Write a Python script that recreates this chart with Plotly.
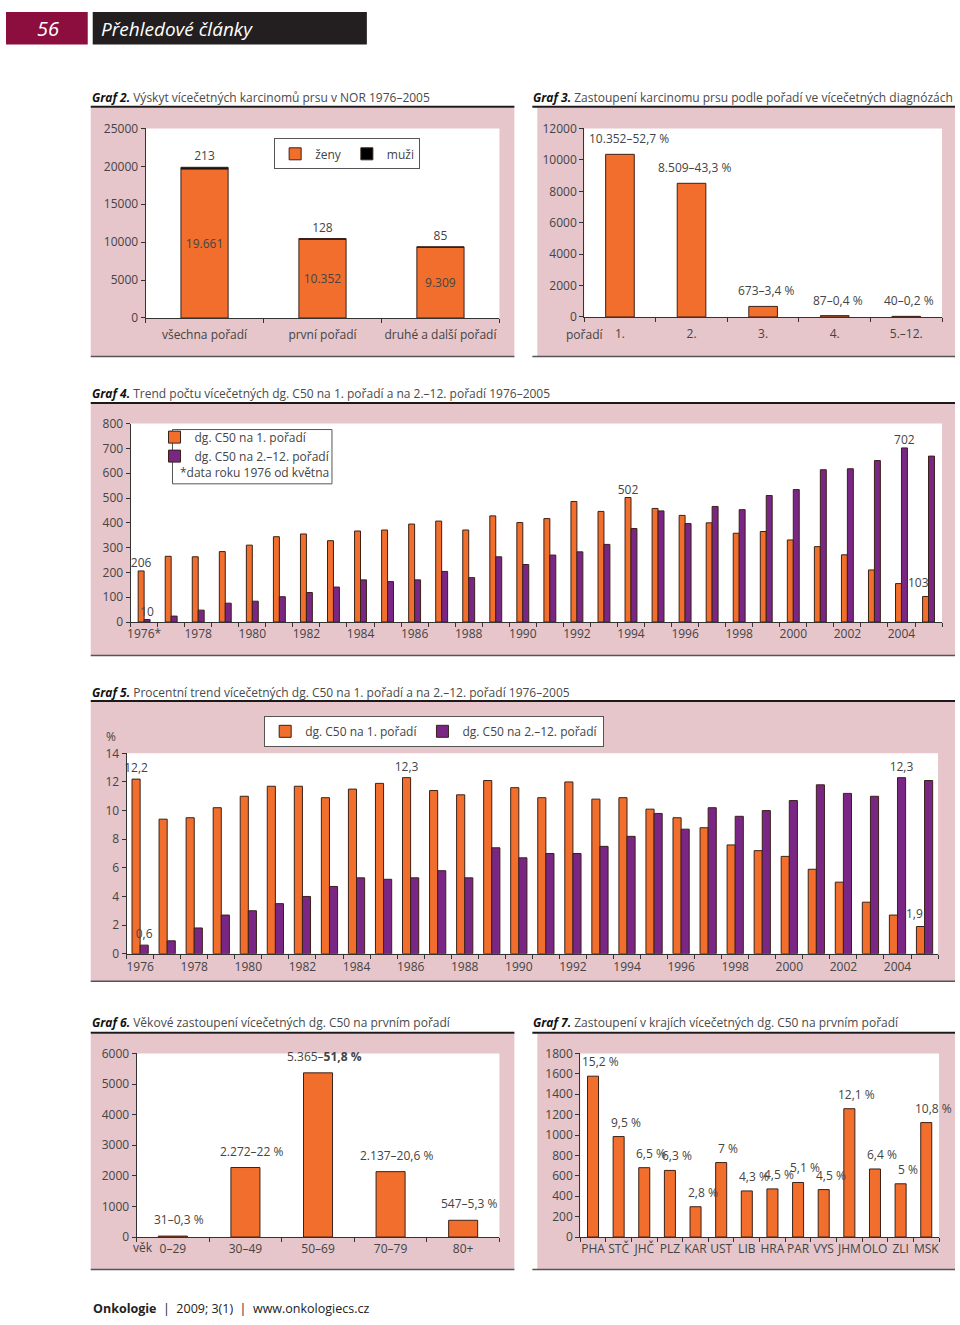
import plotly.graph_objects as go

W, H = 960, 1325
def px(x): return x / W
def py(y): return 1 - y / H

ORANGE = "#f26e2d"
PURPLE = "#7a2685"
EDGE = "#3a2218"
PINK = "#e6c5cb"
TXT = "#444444"
AX = "#333333"
FONT = "Open Sans"
FS = 12

# ---------------- data ----------------
g2_cats = ["všechna pořadí", "první pořadí", "druhé a další pořadí"]
g2_zeny = [19661, 10352, 9309]
g2_muzi = [213, 128, 85]
g2_zeny_lbl = ["19.661", "10.352", "9.309"]
g2_muzi_lbl = ["213", "128", "85"]

g3_cats = ["1.", "2.", "3.", "4.", "5.–12."]
g3_vals = [10352, 8509, 673, 87, 40]
g3_lbl = ["10.352–52,7 %", "8.509–43,3 %", "673–3,4 %", "87–0,4 %", "40–0,2 %"]

years = list(range(1976, 2006))
year_ticks = list(range(1976, 2006, 2))
year_ticktext = ["1976*"] + [str(y) for y in range(1978, 2006, 2)]
year_ticktext5 = [str(y) for y in range(1976, 2006, 2)]

g4_first = [206, 265, 263, 284, 310, 344, 355, 328, 367, 371, 395, 407, 371, 428, 401,
            417, 486, 446, 502, 458, 430, 400, 358, 365, 331, 304, 271, 210, 155, 103]
g4_other = [10, 24, 48, 76, 84, 102, 119, 141, 170, 163, 170, 204, 179, 263, 232,
            270, 283, 313, 377, 448, 397, 466, 453, 510, 534, 614, 618, 651, 702, 669]
g4_first_lbl = {1976: "206", 1994: "502"}
g4_other_lbl = {1976: "10", 2004: "702"}
g4_last_lbl = "103"

g5_first = [12.2, 9.4, 9.5, 10.2, 11.0, 11.7, 11.7, 10.9, 11.5, 11.9, 12.3, 11.4, 11.1, 12.1, 11.6,
            10.9, 12.0, 10.8, 10.9, 10.1, 9.5, 8.8, 7.6, 7.2, 6.8, 5.9, 5.0, 3.6, 2.7, 1.9]
g5_other = [0.6, 0.9, 1.8, 2.7, 3.0, 3.5, 4.0, 4.7, 5.3, 5.2, 5.3, 5.8, 5.3, 7.4, 6.7,
            7.0, 7.0, 7.5, 8.2, 9.8, 8.7, 10.2, 9.6, 10.0, 10.7, 11.8, 11.2, 11.0, 12.3, 12.1]
g5_first_lbl = {1976: "12,2", 1986: "12,3"}
g5_other_lbl = {1976: "0,6", 2004: "12,3"}
g5_last_lbl = "1,9"

g6_cats = ["0–29", "30–49", "50–69", "70–79", "80+"]
g6_vals = [31, 2272, 5365, 2137, 547]
g6_lbl = ["31–0,3 %", "2.272–22 %", "5.365–<b>51,8 %</b>", "2.137–20,6 %", "547–5,3 %"]

g7_cats = ["PHA", "STČ", "JHČ", "PLZ", "KAR", "UST", "LIB", "HRA", "PAR", "VYS", "JHM", "OLO", "ZLI", "MSK"]
g7_vals = [1577, 985, 680, 653, 297, 730, 452, 472, 535, 465, 1258, 667, 522, 1122]
g7_lbl = ["15,2 %", "9,5 %", "6,5 %", "6,3 %", "2,8 %", "7 %", "4,3 %", "4,5 %", "5,1 %", "4,5 %",
          "12,1 %", "6,4 %", "5 %", "10,8 %"]

# ---------------- figure ----------------
fig = go.Figure()
lbl_font = dict(family=FONT, size=FS, color=TXT)
edge = dict(color=EDGE, width=1)

def bar(x, y, xa, ya, color, width, offset=None, text=None, textpos="outside", **kw):
    d = dict(x=x, y=y, xaxis=xa, yaxis=ya, marker=dict(color=color, line=edge),
             width=width, text=text, textposition=textpos, textfont=lbl_font,
             cliponaxis=False, constraintext="none", hoverinfo="skip")
    if offset is not None:
        d["offset"] = offset
    d.update(kw)
    fig.add_trace(go.Bar(**d))

# Graf 2
i2 = list(range(len(g2_cats)))
bar(i2, g2_zeny, "x", "y", ORANGE, 0.4, text=g2_zeny_lbl, textpos="inside",
    insidetextanchor="middle", name="ženy", legend="legend", showlegend=True,
    insidetextfont=lbl_font)
bar(i2, g2_muzi, "x", "y", "#000000", 0.4, text=g2_muzi_lbl, base=g2_zeny,
    name="muži", legend="legend", showlegend=True)

# Graf 3
i3 = list(range(len(g3_cats)))
bar(i3, g3_vals, "x2", "y2", ORANGE, 0.4, showlegend=False)

# Graf 4
bar(years, g4_first, "x3", "y3", ORANGE, 0.22, offset=-0.22,
    text=[g4_first_lbl.get(y, "") for y in years],
    name="dg. C50 na 1. pořadí", legend="legend2", showlegend=True)
bar(years, g4_other, "x3", "y3", PURPLE, 0.22, offset=0.0,
    text=[g4_other_lbl.get(y, "") for y in years],
    name="dg. C50 na 2.–12. pořadí", legend="legend2", showlegend=True)

# Graf 5
bar(years, g5_first, "x4", "y4", ORANGE, 0.3, offset=-0.3,
    text=[g5_first_lbl.get(y, "") for y in years],
    name="dg. C50 na 1. pořadí", legend="legend3", showlegend=True)
bar(years, g5_other, "x4", "y4", PURPLE, 0.3, offset=0.0,
    text=[g5_other_lbl.get(y, "") for y in years],
    name="dg. C50 na 2.–12. pořadí", legend="legend3", showlegend=True)

# Graf 6
i6 = list(range(len(g6_cats)))
bar(i6, g6_vals, "x5", "y5", ORANGE, 0.4, showlegend=False)

# Graf 7
i7 = list(range(len(g7_cats)))
bar(i7, g7_vals, "x6", "y6", ORANGE, 0.43, showlegend=False)

# ---------------- axes ----------------
tickfont = dict(family=FONT, size=FS, color=TXT)

def xax(x0, x1, anchor, n=None, tickvals=None, ticktext=None, rng=None, tick0=-0.5, standoff=4):
    if n is not None:
        tickvals = list(range(n))
        rng = [-0.5, n - 0.5]
    return dict(domain=[px(x0), px(x1)], anchor=anchor, range=rng, tickmode="array",
                tickvals=tickvals, ticktext=ticktext, ticks="", showline=True, linecolor=AX,
                linewidth=1, showgrid=False, zeroline=False, tickfont=tickfont, tickangle=0,
                ticklabelstandoff=standoff, fixedrange=True,
                minor=dict(tick0=tick0, dtick=1, ticks="outside", ticklen=4,
                           tickcolor=AX, tickwidth=1, showgrid=False))

def yax(y0, y1, anchor, top, dtick):
    return dict(domain=[py(y1), py(y0)], anchor=anchor, range=[0, top], dtick=dtick,
                tick0=0, tickformat="d", ticks="outside", ticklen=4, tickcolor=AX, showline=True,
                linecolor=AX, linewidth=1, showgrid=False, zeroline=False,
                tickfont=tickfont, fixedrange=True)

G2 = (143, 498, 121, 313)
G3 = (583, 942, 121, 312)
G4 = (128, 942, 420, 621)
G5 = (124, 938, 754, 957)
G6 = (134, 498, 1058, 1244)
G7 = (579, 939, 1058, 1244)

layout_axes = dict(
    xaxis=xax(G2[0], G2[1], "y", n=3, ticktext=g2_cats, standoff=6),
    yaxis=yax(G2[2], G2[3], "x", 25000, 5000),
    xaxis2=xax(G3[0], G3[1], "y2", n=5, ticktext=g3_cats, standoff=6),
    yaxis2=yax(G3[2], G3[3], "x2", 12000, 2000),
    xaxis3=xax(G4[0], G4[1], "y3", tickvals=year_ticks, ticktext=year_ticktext,
               rng=[1975.5, 2005.5], tick0=1975.5, standoff=1),
    yaxis3=yax(G4[2], G4[3], "x3", 800, 100),
    xaxis4=xax(G5[0], G5[1], "y4", tickvals=year_ticks, ticktext=year_ticktext5,
               rng=[1975.5, 2005.5], tick0=1975.5, standoff=2),
    yaxis4=yax(G5[2], G5[3], "x4", 14, 2),
    xaxis5=xax(G6[0], G6[1], "y5", n=5, ticktext=g6_cats, standoff=1),
    yaxis5=yax(G6[2], G6[3], "x5", 6000, 1000),
    xaxis6=xax(G7[0], G7[1], "y6", n=14, ticktext=g7_cats, standoff=1),
    yaxis6=yax(G7[2], G7[3], "x6", 1800, 200),
)

# ---------------- decorations ----------------
shapes = []
def rect(x0, y0, x1, y1, color, line=None):
    shapes.append(dict(type="rect", xref="paper", yref="paper", x0=px(x0), x1=px(x1),
                       y0=py(y1), y1=py(y0), fillcolor=color, layer="below",
                       line=line or dict(width=0)))
def hline(x0, x1, y, width=2, color="#1a1a1a"):
    shapes.append(dict(type="line", xref="paper", yref="paper", x0=px(x0), x1=px(x1),
                       y0=py(y), y1=py(y), line=dict(color=color, width=width), layer="below"))

# header
rect(3, 3, 85, 36, "#8c0e3f")
rect(90, 3, 365, 36, "#231f20")

panels = [
    (88, 100, 513, 352), (536, 100, 955, 352),
    (88, 400, 955, 655), (88, 702, 955, 985),
    (88, 1038, 513, 1277), (536, 1038, 955, 1277),
]
for (x0, y0, x1, y1) in panels:
    rect(x0, y0, x1, y1, PINK)
for (x0, x1, y0, y1) in [G2, G3, G4, G5, G6, G7]:
    rect(x0, y0, x1, y1, "white")

hline(88, 513, 99); hline(531, 955, 99)
hline(88, 955, 399); hline(88, 955, 701)
hline(88, 513, 1037); hline(531, 955, 1037)
for (x0, y0, x1, y1) in panels:
    hline(x0 if x0 != 536 else 531, x1, y1, width=1.5, color="#555555")

# legend box for Graf 4
rect(170, 426, 330, 481, "white", line=dict(color="#555555", width=1))

annotations = []
def text(x, y, s, size=FS, color=TXT, xanchor="left", family=FONT):
    annotations.append(dict(x=px(x), y=py(y), xref="paper", yref="paper", text=s,
                            showarrow=False, xanchor=xanchor, yanchor="middle",
                            font=dict(family=family, size=size, color=color)))

text(45, 20, "<i>56</i>", size=20, color="white", xanchor="center")
text(96, 20, "<i>Přehledové články</i>", size=19, color="white")

def title(x, y, num, rest):
    text(x, y, f"<b><i>Graf {num}.</i></b> <span style='color:#4a4a4a'>{rest}</span>",
         size=12, color="#111111")

title(87, 90, 2, "Výskyt vícečetných karcinomů prsu v NOR 1976–2005")
title(530, 90, 3, "Zastoupení karcinomu prsu podle pořadí ve vícečetných diagnózách")
title(87, 390, 4, "Trend počtu vícečetných dg. C50 na 1. pořadí a na 2.–12. pořadí 1976–2005")
title(87, 692, 5, "Procentní trend vícečetných dg. C50 na 1. pořadí a na 2.–12. pořadí 1976–2005")
title(87, 1027, 6, "Věkové zastoupení vícečetných dg. C50 na prvním pořadí")
title(530, 1027, 7, "Zastoupení v krajích vícečetných dg. C50 na prvním pořadí")

text(583, 330, "pořadí", xanchor="center")
text(140, 1255, "věk", xanchor="center")
text(108, 737, "%", xanchor="center")
text(176, 470, "*data roku 1976 od května")

text(88, 1316, "<b>Onkologie</b>  |  2009; 3(1)  |  www.onkologiecs.cz", size=12.5, color="#222222")

# value labels placed slightly off-centre, as in the original
def val_label(xa, ya, x, y, lbl, xshift, yshift=3):
    annotations.append(dict(x=x, y=y, xref=xa, yref=ya, text=lbl, showarrow=False,
                            xanchor="center", yanchor="bottom", xshift=xshift, yshift=yshift,
                            font=dict(family=FONT, size=FS, color=TXT)))

val_label("x3", "y3", years[-1], g4_first[-1], g4_last_lbl, -10)
val_label("x4", "y4", years[-1], g5_first[-1], g5_last_lbl, -10)
for i, (v, l) in enumerate(zip(g3_vals, g3_lbl)):
    val_label("x2", "y2", i, v, l, 9 if i == 0 else 3, 5)
for i, (v, l) in enumerate(zip(g6_vals, g6_lbl)):
    val_label("x5", "y5", i, v, l, 6, 6)
for i, (v, l) in enumerate(zip(g7_vals, g7_lbl)):
    val_label("x6", "y6", i, v, l, 7, 4)

legfont = dict(family=FONT, size=FS, color=TXT)
fig.update_layout(
    width=W, height=H, margin=dict(l=0, r=0, t=0, b=0), autosize=False,
    paper_bgcolor="white", plot_bgcolor="rgba(0,0,0,0)",
    barmode="overlay", hovermode=False,
    font=dict(family=FONT, size=FS, color=TXT),
    shapes=shapes, annotations=annotations,
    legend=dict(x=px(272), y=py(131), xanchor="left", yanchor="top", orientation="h",
                bgcolor="white", bordercolor="#555555", borderwidth=1, font=legfont,
                itemwidth=30, tracegroupgap=0),
    legend2=dict(x=px(152), y=py(419), xanchor="left", yanchor="top", orientation="v",
                 bgcolor="rgba(0,0,0,0)", borderwidth=0, font=legfont, itemwidth=30,
                 tracegroupgap=0),
    legend3=dict(x=px(262), y=py(716), xanchor="left", yanchor="top", orientation="h",
                 bgcolor="white", bordercolor="#555555", borderwidth=1, font=legfont,
                 itemwidth=30),
    **layout_axes,
)

fig.write_html(
    "out.html",
    config={"displayModeBar": False, "staticPlot": True},
    post_script=(
        "document.documentElement.style.margin='0';document.body.style.margin='0';"
        "document.body.style.padding='0';document.body.style.overflow='hidden';"
        "document.documentElement.style.overflow='hidden';"
        "var d=document.getElementById('{plot_id}');d.style.position='fixed';"
        "d.style.left='0px';d.style.top='0px';"
    ),
)
